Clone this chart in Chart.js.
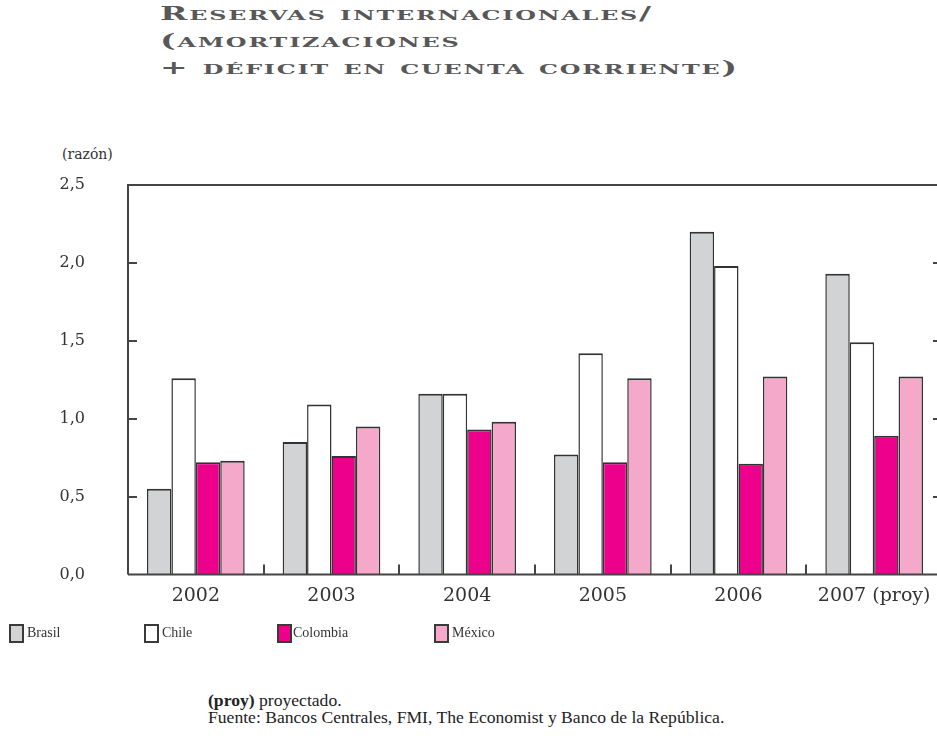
<!DOCTYPE html>
<html>
<head>
<meta charset="utf-8">
<script src="https://cdn.jsdelivr.net/npm/chart.js@4"></script>
<style>
  html, body { margin: 0; padding: 0; width: 937px; height: 736px; overflow: hidden; background: #fff; }
  #wrap { position: absolute; left: 0; top: 0; width: 944px; height: 627px; }
  .title { position: absolute; left: 160px; font-family: "DejaVu Serif", serif; font-size: 18px; font-weight: bold; font-variant: small-caps;
           color: #585858; letter-spacing: 1px; white-space: nowrap; transform-origin: 0 0; line-height: 1; }
  .unit { position: absolute; left: 62px; top: 146px; font-family: "DejaVu Serif", serif; font-size: 14px; color: #333; }
  .lg { position: absolute; top: 624px; font-family: "Liberation Serif", serif; font-size: 14px; color: #333; line-height: 18px; white-space: nowrap; }
  .sw { position: absolute; top: 624px; width: 11px; height: 15px; border: 2px solid #3a3a3a; }
  .note { position: absolute; left: 208px; font-family: "Liberation Serif", serif; font-size: 16px; color: #222; white-space: nowrap;
          transform: scaleX(1.1); transform-origin: 0 0; }
</style>
</head>
<body>
<div class="title" id="t1" style="top:5px">Reservas internacionales/</div>
<div class="title" id="t2" style="top:32px">(amortizaciones</div>
<div class="title" id="t3" style="top:59px">+ déficit en cuenta corriente)</div>
<div class="unit">(razón)</div>
<div id="wrap"><canvas id="c" width="944" height="627"></canvas></div>

<div class="sw" style="left:9px;background:#d1d3d4"></div><div class="lg" style="left:27px">Brasil</div>
<div class="sw" style="left:144px;background:#ffffff"></div><div class="lg" style="left:162px">Chile</div>
<div class="sw" style="left:277px;background:#ec008c"></div><div class="lg" style="left:293px">Colombia</div>
<div class="sw" style="left:434px;background:#f4a9cb"></div><div class="lg" style="left:452px">México</div>

<div class="note" style="top:692px"><b>(proy)</b> proyectado.</div>
<div class="note" style="top:709px">Fuente: Bancos Centrales, FMI, The Economist y Banco de la República.</div>

<script>
const categories = ["2002", "2003", "2004", "2005", "2006", "2007 (proy)"];
const brasil   = [0.55, 0.85, 1.16, 0.77, 2.20, 1.93];
const chile    = [1.26, 1.09, 1.16, 1.42, 1.98, 1.49];
const colombia = [0.72, 0.76, 0.93, 0.72, 0.71, 0.89];
const mexico   = [0.73, 0.95, 0.98, 1.26, 1.27, 1.27];
const yTicks   = [0, 0.5, 1.0, 1.5, 2.0, 2.5];

// title: stretch horizontally to match the wide lettering
(function(){
  const t1 = document.getElementById('t1');
  const w = t1.getBoundingClientRect().width;
  const s = 493 / w;
  ['t1','t2','t3'].forEach(id => document.getElementById(id).style.transform = 'scaleX(' + s + ')');
})();

const edge = '#333333';
const frame = {
  id: 'frame',
  afterDatasetsDraw(chart) {
    const {ctx, chartArea: a, scales: {x, y}} = chart;
    ctx.save();
    ctx.strokeStyle = '#444';
    ctx.lineWidth = 2;
    ctx.beginPath();
    ctx.moveTo(a.left, a.bottom); ctx.lineTo(a.left, a.top); ctx.lineTo(a.right, a.top);
    ctx.lineTo(a.right, a.bottom); ctx.lineTo(a.left, a.bottom);
    ctx.stroke();
    ctx.beginPath();
    yTicks.forEach(v => {
      if (v === 0 || v === 2.5) return;
      const py = Math.round(y.getPixelForValue(v));
      ctx.moveTo(a.left, py); ctx.lineTo(a.left + 9, py);
      ctx.moveTo(a.right, py); ctx.lineTo(a.right - 9, py);
    });
    for (let i = 1; i < categories.length; i++) {
      const px = Math.round((x.getPixelForValue(i - 1) + x.getPixelForValue(i)) / 2);
      ctx.moveTo(px, a.bottom); ctx.lineTo(px, a.bottom - 10);
    }
    ctx.stroke();
    ctx.restore();
  }
};

const bw = {top: 2, left: 1.5, right: 1.5, bottom: 0};
new Chart(document.getElementById('c'), {
  type: 'bar',
  data: {
    labels: categories,
    datasets: [
      {label: 'Brasil', data: brasil, backgroundColor: '#d1d3d4', borderColor: edge, borderWidth: bw},
      {label: 'Chile', data: chile, backgroundColor: '#ffffff', borderColor: edge, borderWidth: bw},
      {label: 'Colombia', data: colombia, backgroundColor: '#ec008c', borderColor: edge, borderWidth: bw},
      {label: 'México', data: mexico, backgroundColor: '#f4a9cb', borderColor: edge, borderWidth: bw}
    ]
  },
  options: {
    responsive: false,
    animation: false,
    layout: {padding: {top: 185, left: 0, right: 2, bottom: 0}},
    plugins: {legend: {display: false}, tooltip: {enabled: false}},
    datasets: {bar: {barPercentage: 1, categoryPercentage: 0.72, borderSkipped: 'start'}},
    scales: {
      x: {
        grid: {display: false, drawTicks: false},
        border: {display: false},
        ticks: {color: '#333', font: {family: 'DejaVu Serif', size: 19}, padding: 10, maxRotation: 0, autoSkip: false},
        afterFit(s) { s.height = 38; }
      },
      y: {
        min: 0, max: 2.5,
        grid: {display: false, drawTicks: false},
        border: {display: false},
        afterBuildTicks(s) { s.ticks = yTicks.map(v => ({value: v})); },
        ticks: {color: '#333', font: {family: 'DejaVu Serif', size: 16}, padding: 43,
                callback: v => v.toFixed(1).replace('.', ',')},
        afterFit(s) { s.width = 128; }
      }
    }
  },
  plugins: [frame]
});
</script>
</body>
</html>
